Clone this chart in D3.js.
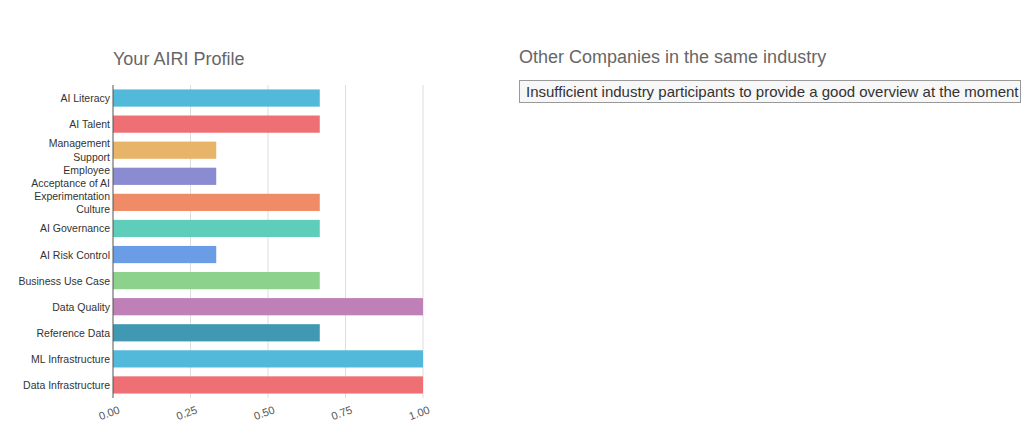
<!DOCTYPE html>
<html><head><meta charset="utf-8">
<script src="https://cdn.jsdelivr.net/npm/d3@7"></script>
<style>
body{margin:0;background:#fff;font-family:"Liberation Sans",Arial,sans-serif;}
.box{position:absolute;left:519px;top:80px;width:494px;height:21px;border:1px solid #999;background:#f7f7f7;font-size:15px;line-height:21px;color:#333;padding-left:6px;box-sizing:content-box;}
.t2{position:absolute;left:519px;top:47px;font-size:18px;color:#666;}
</style></head>
<body>
<div class="t2">Other Companies in the same industry</div>
<div class="box">Insufficient industry participants to provide a good overview at the moment</div>
<script>
const categories = ['AI Literacy','AI Talent','Management Support','Employee Acceptance of AI','Experimentation Culture','AI Governance','AI Risk Control','Business Use Case','Data Quality','Reference Data','ML Infrastructure','Data Infrastructure'];
const values = [0.667,0.667,0.333,0.333,0.667,0.667,0.333,0.667,1,0.667,1,1];
const colors = ['#53b9db','#ee6f74','#e7b46a','#8a8bd0','#f08b67','#5ecdb9','#6a9de6','#8dd28c','#bf7fb7','#4198b2','#53b9db','#ee6f74'];
const ticks = [0,0.25,0.5,0.75,1];

const svg = d3.select('body').append('svg').attr('width',1024).attr('height',428)
  .style('position','absolute').style('left',0).style('top',0);

const x = d3.scaleLinear().domain([0,1]).range([113,423]);
const y = d3.scaleBand().domain(categories).range([85,398]).paddingInner(0.34).paddingOuter(0.17);

svg.append('text').attr('x',113).attr('y',65).attr('font-size',18).attr('fill','#666').text('Your AIRI Profile');

svg.selectAll('line.grid').data(ticks.slice(1)).enter().append('line')
  .attr('x1',d=>x(d)).attr('x2',d=>x(d)).attr('y1',85).attr('y2',398)
  .attr('stroke','#ddd').attr('stroke-width',1);

svg.selectAll('rect').data(categories).enter().append('rect')
  .attr('x',x(0)).attr('y',d=>y(d)).attr('height',y.bandwidth())
  .attr('width',(d,i)=>x(values[i])-x(0)).attr('fill',(d,i)=>colors[i]);

svg.append('line').attr('x1',x(0)).attr('x2',x(0)).attr('y1',85).attr('y2',398).attr('stroke','#555');

// y labels, wrapped when long
const wrapped = {'Management Support':['Management','Support'],'Employee Acceptance of AI':['Employee','Acceptance of AI'],'Experimentation Culture':['Experimentation','Culture']};
categories.forEach(c => {
  const lines = wrapped[c] || [c];
  const cy = y(c) + y.bandwidth()/2;
  lines.forEach((l,j) => {
    svg.append('text').attr('x',110).attr('y',cy + (j - (lines.length-1)/2)*13.5 + 4)
      .attr('text-anchor','end').attr('font-size',10.5).attr('fill','#333').text(l);
  });
});

const xAxis = svg.append('g').attr('transform','translate(0,398)')
  .call(d3.axisBottom(x).tickValues(ticks).tickFormat(d3.format('.2f')).tickSize(0));
xAxis.select('.domain').remove();
xAxis.selectAll('text').attr('font-size',11).attr('fill','#555').attr('text-anchor','end')
  .attr('transform','translate(6,12) rotate(-20)').attr('dy',0);
</script>
</body></html>
